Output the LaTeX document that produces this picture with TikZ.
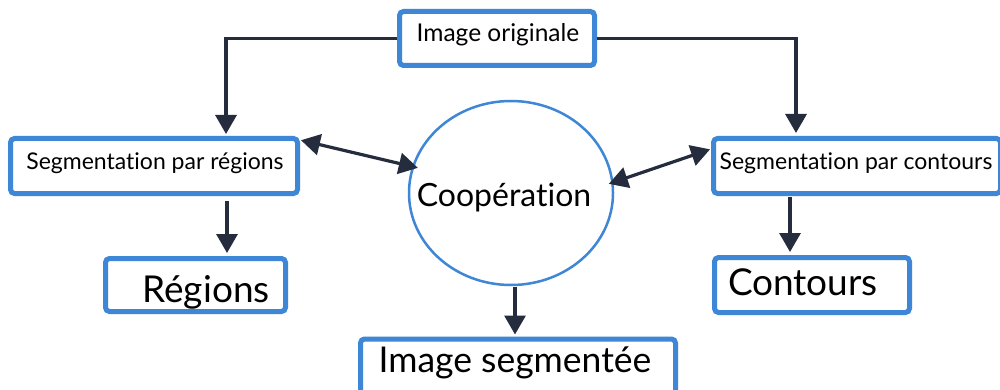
\documentclass[tikz,border=0pt]{standalone}
\usepackage{fontspec}
\setmainfont{Lato}[RawFeature=-liga]
\usetikzlibrary{shapes.geometric,arrows.meta}
\definecolor{boxblue}{RGB}{62,134,214}
\definecolor{inkdark}{RGB}{37,44,61}
\begin{document}
\begin{tikzpicture}[x=1pt,y=-1pt,
  box/.style={draw=boxblue, line width=5pt, rounded corners=4pt, fill=white, inner sep=0pt},
  lbl/.style={inner sep=0pt, anchor=base, text=black},
  small/.style={font=\fontsize{23}{27}\selectfont},
  big/.style={font=\fontsize{37}{42}\selectfont},
  tip/.tip={Triangle[length=19pt,width=21pt]},
  conn/.style={draw=inkdark, line width=3.2pt, -tip},
  both/.style={draw=inkdark, line width=3.2pt, tip-tip}]
\useasboundingbox (0,0) rectangle (1000,390);
\clip (0,0) rectangle (1000,390);
\fill[white] (0,0) rectangle (1000,390);

% boxes
\node[box, minimum width=195pt, minimum height=54pt] (orig) at (497,38.5) {};
\node[box, minimum width=287pt, minimum height=55pt] (segr) at (154,166) {};
\node[box, minimum width=287pt, minimum height=55pt] (segc) at (857,166) {};
\node[box, minimum width=180pt, minimum height=53pt] (regions) at (195.5,285) {};
\node[box, minimum width=195pt, minimum height=55pt] (contours) at (812,285) {};
\node[box, minimum width=315pt, minimum height=60pt] (imgseg) at (518,369) {};
\node[draw=boxblue, line width=2.5pt, ellipse, minimum width=204pt, minimum height=184pt, inner sep=0pt] (coop) at (511,193) {};

% labels
\node[lbl, font=\fontsize{24.5}{28}\selectfont] (origt) at (498,42) {Image originale};
\node[lbl, small] (segrt) at (155,169) {Segmentation par régions};
\node[lbl, small] (segct) at (856,170) {Segmentation par contours};
\node[lbl, big] (regt) at (206,302) {Régions};
\node[lbl, big] (cont) at (803,295) {Contours};
\node[lbl, font=\fontsize{32}{36}\selectfont] (coopt) at (504,206) {Coopération};
\node[lbl, font=\fontsize{35.5}{40}\selectfont] (imgt) at (515,372) {Image segmentée};

% connectors
\draw[conn, shorten >=2pt] (orig.west) -| ([xshift=72pt]segr.north);
\draw[conn, shorten >=3pt] (orig.east) -| ([xshift=-61pt]segc.north);
\draw[conn, shorten <=5pt, shorten >=3pt] ([xshift=73pt]segr.south) -- ([xshift=73pt]segr.south |- regions.north);
\draw[conn, shorten <=1pt, shorten >=3pt] ([xshift=-67pt]segc.south) -- ([xshift=-67pt]segc.south |- contours.north);
\draw[conn, shorten <=1pt, shorten >=2pt] ([xshift=4pt]coop.south) -- ([xshift=4pt]coop.south |- imgseg.north);
\draw[both, shorten <=1pt, shorten >=-6pt] ([yshift=-4pt]segr.north east) -- (coop.165);
\draw[both, shorten <=-5pt, shorten >=1pt] (coop.6) -- ([yshift=-13pt]segc.north west);
\end{tikzpicture}
\end{document}
